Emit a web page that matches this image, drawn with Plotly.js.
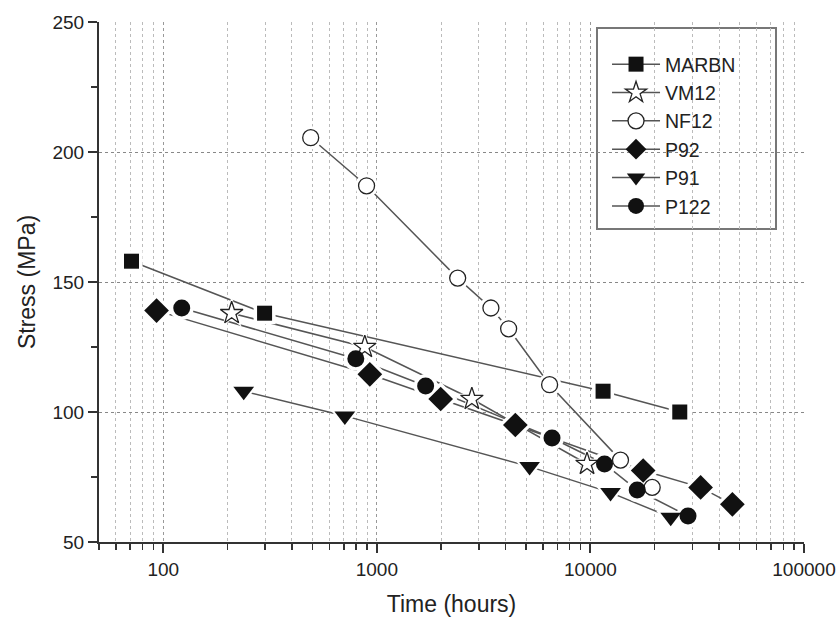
<!DOCTYPE html>
<html>
<head>
<meta charset="utf-8">
<script src="https://cdn.plot.ly/plotly-3.0.1.min.js"></script>
<style>html,body{margin:0;padding:0;background:#fff;}#chart{width:840px;height:621px;}</style>
</head>
<body>
<div id="chart"></div>
<script>
// Data (time in hours, stress in MPa)
const marbnTime = [71, 298, 11460, 26200];
const marbnStress = [158, 138, 108, 100];
const vm12Time = [209, 878, 2785, 9640];
const vm12Stress = [138, 125, 105, 80];
const nf12Time = [490, 895, 2390, 3420, 4140, 6440, 13830, 19460];
const nf12Stress = [205.5, 187, 151.5, 140, 132, 110.5, 81.5, 71];
const p92Time = [93, 927, 1990, 4450, 17660, 32800, 46200];
const p92Stress = [139, 114.5, 105, 95, 77.5, 71, 64.5];
const p91Time = [238, 708, 5190, 12420, 23760];
const p91Stress = [108, 98.5, 79, 69, 59.5];
const p122Time = [122, 797, 1692, 6610, 11640, 16560, 28640];
const p122Stress = [140, 120.5, 110, 90, 80, 70, 60];

const seriesNames = ['MARBN', 'VM12', 'NF12', 'P92', 'P91', 'P122'];
const xs = [marbnTime, vm12Time, nf12Time, p92Time, p91Time, p122Time];
const ys = [marbnStress, vm12Stress, nf12Stress, p92Stress, p91Stress, p122Stress];
const symbols = ['square', 'star', 'circle', 'diamond', 'triangle-down', 'circle'];
const fills = ['#111', '#fff', '#fff', '#111', '#111', '#111'];
const sizes = [15, 17, 16, 19, 18, 17];

const lineStyle = {color: '#555', width: 1.5};
function markerStyle(i) {
  return {symbol: symbols[i], size: sizes[i], color: fills[i],
          line: {color: '#222', width: fills[i] === '#fff' ? 1.3 : 0}};
}

const traces = [];
// connecting lines
seriesNames.forEach((n, i) => traces.push({
  type: 'scatter', mode: 'lines', x: xs[i], y: ys[i], line: lineStyle,
  showlegend: false, hoverinfo: 'skip'
}));
// white halo so the lines stop short of each marker
seriesNames.forEach((n, i) => traces.push({
  type: 'scatter', mode: 'markers', x: xs[i], y: ys[i],
  marker: {symbol: symbols[i], size: sizes[i] + 7, color: '#fff', line: {width: 0}},
  showlegend: false, hoverinfo: 'skip'
}));
// markers
seriesNames.forEach((n, i) => traces.push({
  type: 'scatter', mode: 'markers', x: xs[i], y: ys[i], marker: markerStyle(i),
  showlegend: false, name: n
}));
// legend entries (line + marker)
seriesNames.forEach((n, i) => traces.push({
  type: 'scatter', mode: 'lines+markers', x: [null], y: [null], name: n,
  line: lineStyle, marker: markerStyle(i), showlegend: true
}));

const fam = 'Liberation Sans, Arial, sans-serif';
const txt = '#222';

const layout = {
  width: 840, height: 621,
  margin: {l: 99, r: 36, t: 22, b: 79},
  paper_bgcolor: '#fff', plot_bgcolor: '#fff',
  showlegend: true,
  font: {family: fam, color: txt},
  xaxis: {
    type: 'log', range: [Math.log10(50), 5],
    tickvals: [100, 1000, 10000, 100000],
    ticktext: ['100', '1000', '10000', '100000'],
    ticks: 'outside', ticklen: 9, tickwidth: 2, tickcolor: '#333',
    showline: true, linecolor: '#333', linewidth: 2,
    showgrid: true, gridcolor: '#999', griddash: 'dot', gridwidth: 1,
    zeroline: false,
    tickfont: {size: 19, family: fam, color: txt},
    title: {text: 'Time (hours)', font: {size: 23, family: fam, color: txt}, standoff: 17},
    minor: {ticks: 'outside', ticklen: 6, tickwidth: 1.5, tickcolor: '#333', dtick: 'D1',
            showgrid: true, gridcolor: '#bbb', griddash: 'dot', gridwidth: 1}
  },
  yaxis: {
    range: [50, 250], dtick: 50,
    ticks: 'outside', ticklen: 9, tickwidth: 2, tickcolor: '#333',
    showline: true, linecolor: '#333', linewidth: 2,
    showgrid: true, gridcolor: '#888', griddash: 'dot', gridwidth: 1,
    zeroline: false,
    tickfont: {size: 19, family: fam, color: txt},
    title: {text: 'Stress (MPa)', font: {size: 23, family: fam, color: txt}, standoff: 10},
    minor: {ticks: 'outside', ticklen: 6, tickwidth: 1.5, tickcolor: '#333', dtick: 25, showgrid: false}
  },
  legend: {
    x: 0.7206, y: 0.9558, xanchor: 'left', yanchor: 'top',
    bgcolor: 'rgba(0,0,0,0)', borderwidth: 0,
    font: {size: 19.5, family: fam, color: txt},
    itemwidth: 48, tracegroupgap: 0
  },
  shapes: [{
    type: 'rect', xref: 'paper', yref: 'paper',
    x0: (597 - 99) / 705, x1: (776 - 99) / 705,
    y0: 1 - (229 - 22) / 520, y1: 1 - (28 - 22) / 520,
    line: {color: '#777', width: 2}, fillcolor: '#fff', layer: 'below'
  }]
};

Plotly.newPlot('chart', traces, layout, {displayModeBar: false, staticPlot: true});
</script>
</body>
</html>
